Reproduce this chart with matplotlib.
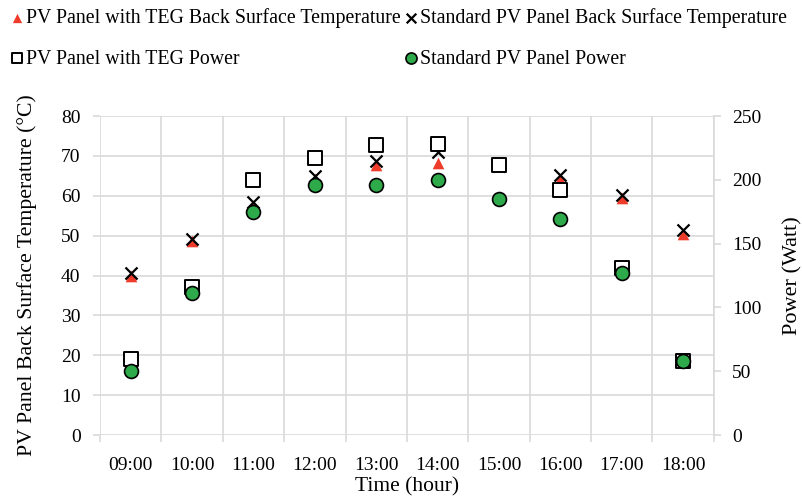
import matplotlib.pyplot as plt
from matplotlib.ticker import MultipleLocator, FixedLocator

plt.rcParams['font.family'] = ['Liberation Serif', 'DejaVu Serif']

hours = ['09:00', '10:00', '11:00', '12:00', '13:00', '14:00', '15:00', '16:00', '17:00', '18:00']
temp_teg = [40.0, 48.6, 57.5, 64.2, 67.8, 68.2, 67.5, 64.2, 59.4, 50.5]
temp_std = [40.7, 49.2, 58.5, 65.0, 68.6, 70.9, 67.5, 65.2, 60.1, 51.4]
power_teg = [60, 116, 200, 217, 227, 228, 212, 192, 131, 58]
power_std = [50, 111, 175, 196, 196, 200, 185, 169, 127, 58]

grid_c = '#D9D9D9'
x = list(range(len(hours)))

fig = plt.figure(figsize=(8.03, 4.99), dpi=100)
ax = fig.add_axes([0.1245, 0.128, 0.7645, 0.6395])
ax2 = ax.twinx()

# temperatures on the left axis
h1 = ax.scatter(x, temp_teg, marker='^', s=70, color='#EE3B2A', zorder=3, linewidths=0)
h2 = ax.scatter(x, temp_std, marker='x', s=75, color='black', linewidths=1.6, zorder=4)
# power on the right axis
h3 = ax2.scatter(x, power_teg, marker='s', s=95, facecolor='white', edgecolor='black', linewidths=1.4, zorder=3)
h4 = ax2.scatter(x, power_std, marker='o', s=100, facecolor='#2EAA4A', edgecolor='black', linewidths=1.2, zorder=4)

ax.set_xlim(-0.5, len(hours) - 0.5)
ax.set_ylim(0, 80)
ax2.set_ylim(0, 250)
ax.yaxis.set_major_locator(MultipleLocator(10))
ax2.yaxis.set_major_locator(MultipleLocator(50))

ax.set_xticks(x)
ax.set_xticklabels(hours)
ax.xaxis.set_minor_locator(FixedLocator([i - 0.5 for i in range(len(hours) + 1)]))
ax.tick_params(axis='x', which='major', length=0, pad=16, labelsize=14)
ax.tick_params(axis='x', which='minor', length=5, color=grid_c, width=1.2)
ax.tick_params(axis='y', length=5, color=grid_c, width=1.2, labelsize=14, pad=9)
ax2.tick_params(axis='y', length=5, color=grid_c, width=1.2, labelsize=14, pad=8)

ax.grid(True, which='minor', axis='x', color=grid_c, linewidth=1.2)
ax.grid(True, which='major', axis='y', color=grid_c, linewidth=1.2)
ax.set_axisbelow(True)
for a in (ax, ax2):
    for s in a.spines.values():
        s.set_visible(False)
ax2.spines['right'].set_visible(True)
ax2.spines['right'].set_color(grid_c)
ax2.spines['right'].set_linewidth(1.2)

ax.set_ylabel('PV Panel Back Surface Temperature (°C)', fontsize=15.7, labelpad=17)
ax2.set_ylabel('Power (Watt)', fontsize=16, labelpad=16)
ax.set_xlabel('Time (hour)', fontsize=15.5, labelpad=2)

fig.legend([h1, h3, h2, h4],
           ['PV Panel with TEG Back Surface Temperature', 'PV Panel with TEG Power',
            'Standard PV Panel Back Surface Temperature', 'Standard PV Panel Power'],
           ncol=2, loc='upper left', bbox_to_anchor=(-0.005, 1.012), frameon=False,
           fontsize=14.3, handlelength=0.7, handletextpad=0.1, columnspacing=0.2,
           labelspacing=1.1, borderaxespad=0.3, markerscale=0.8)

fig.savefig('out.png', dpi=100)
